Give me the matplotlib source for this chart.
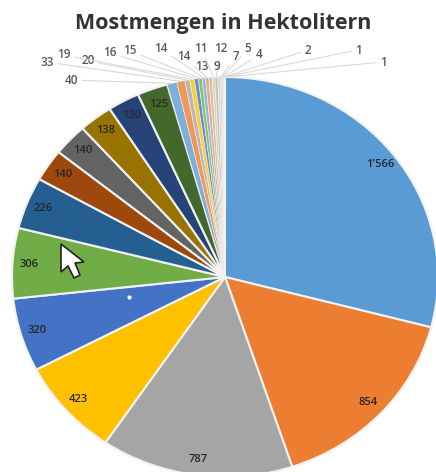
#!/usr/bin/env python3
"""Mostmengen pie, slices clockwise from the top, with leader lines for the small ones."""
import numpy as np
import matplotlib
matplotlib.use("Agg")
import matplotlib.pyplot as plt
from matplotlib.patches import Polygon

W, H = 436, 472
CX, CY, RX, RY = 225, 277, 213, 200

TITLE = "Mostmengen in Hektolitern"
values = [1566, 854, 787, 423, 320, 306, 226, 140, 140, 138, 130, 125,
          40, 33, 20, 19, 16, 15, 14, 14, 13, 11, 12, 9, 7, 5, 4, 2, 1, 1]
labels = ["1'566", "854", "787", "423", "320", "306", "226", "140", "140", "138", "130", "125",
          "40", "33", "20", "19", "16", "15", "14", "14", "13", "11", "12", "9", "7", "5", "4", "2", "1", "1"]
colors = ["#5B9BD5", "#ED7D31", "#A5A5A5", "#FFC000", "#4472C4", "#70AD47",
          "#255E91", "#9E480E", "#636363", "#997300", "#264478", "#43682B",
          "#7CAFDD", "#F1975A", "#B7B7B7", "#FFCD33", "#698ED0", "#8CC168",
          "#8FB8DE", "#F4A97A", "#C4C4C4", "#F5D27A", "#B4C7E7", "#F8CBAD",
          "#BDD7EE", "#C5E0B4", "#DBDBDB", "#FFE699", "#B4C7E7", "#DEEBF7"]
# label positions of the small slices in picture pixels
small_pos = [(71, 80), (47, 62), (88, 61), (64, 55), (110, 53), (130, 51), (161, 49), (184, 57),
             (202, 67), (201, 48), (221, 49), (217, 66), (236, 56), (248, 49), (259, 55),
             (308, 50), (358, 50), (383, 62)]


def px(x, y):
    # picture pixels to pie units (the picture is stretched a little in x)
    return (x - CX) / RX, (CY - y) / RY


fig = plt.figure(figsize=(W / 100, H / 100), dpi=100, facecolor="white")
ax = fig.add_axes([0, 0, 1, 1])
wedges, _ = ax.pie(values, colors=colors, startangle=90, counterclock=False, radius=1,
                   wedgeprops={"edgecolor": "#f2f2f2", "linewidth": 1.5})
ax.set_aspect("auto")
ax.set_xlim(px(0, 0)[0], px(W, 0)[0])
ax.set_ylim(px(0, H)[1], px(0, 0)[1])

n_big = 12
for i, (w, lab) in enumerate(zip(wedges, labels)):
    ang = np.deg2rad((w.theta1 + w.theta2) / 2)
    if i < n_big:
        ax.text(0.92 * np.cos(ang), 0.92 * np.sin(ang), lab, ha="center", va="center",
                fontsize=8, color="#262626", family="Open Sans", fontweight="semibold")
    else:
        w.set_linewidth(0.4)
        ax.annotate(lab, xy=(1.0 * np.cos(ang), 1.0 * np.sin(ang)),
                    xytext=px(*small_pos[i - n_big]), ha="center", va="center",
                    fontsize=8.5, color="#595959", family="Open Sans", fontweight="semibold",
                    arrowprops={"arrowstyle": "-", "color": "#d9d9d9", "lw": 0.8,
                                "shrinkA": 1, "shrinkB": 0})

ax.text(*px(223, 24), TITLE, ha="center", va="center", fontsize=15.5,
        family="Open Sans", fontweight="bold", color="#333333")

# mouse pointer and the small white speck sitting on the screenshot
cursor = [(61, 244), (61, 272), (68, 266), (74, 278), (80, 275), (75, 263), (84, 262)]
ax.add_patch(Polygon([px(*p) for p in cursor], closed=True, facecolor="white",
                     edgecolor="#222222", linewidth=1.2, zorder=5))
ax.plot(*px(129, 297), "o", color="white", ms=2, zorder=5)

fig.savefig("out.png", dpi=100)
